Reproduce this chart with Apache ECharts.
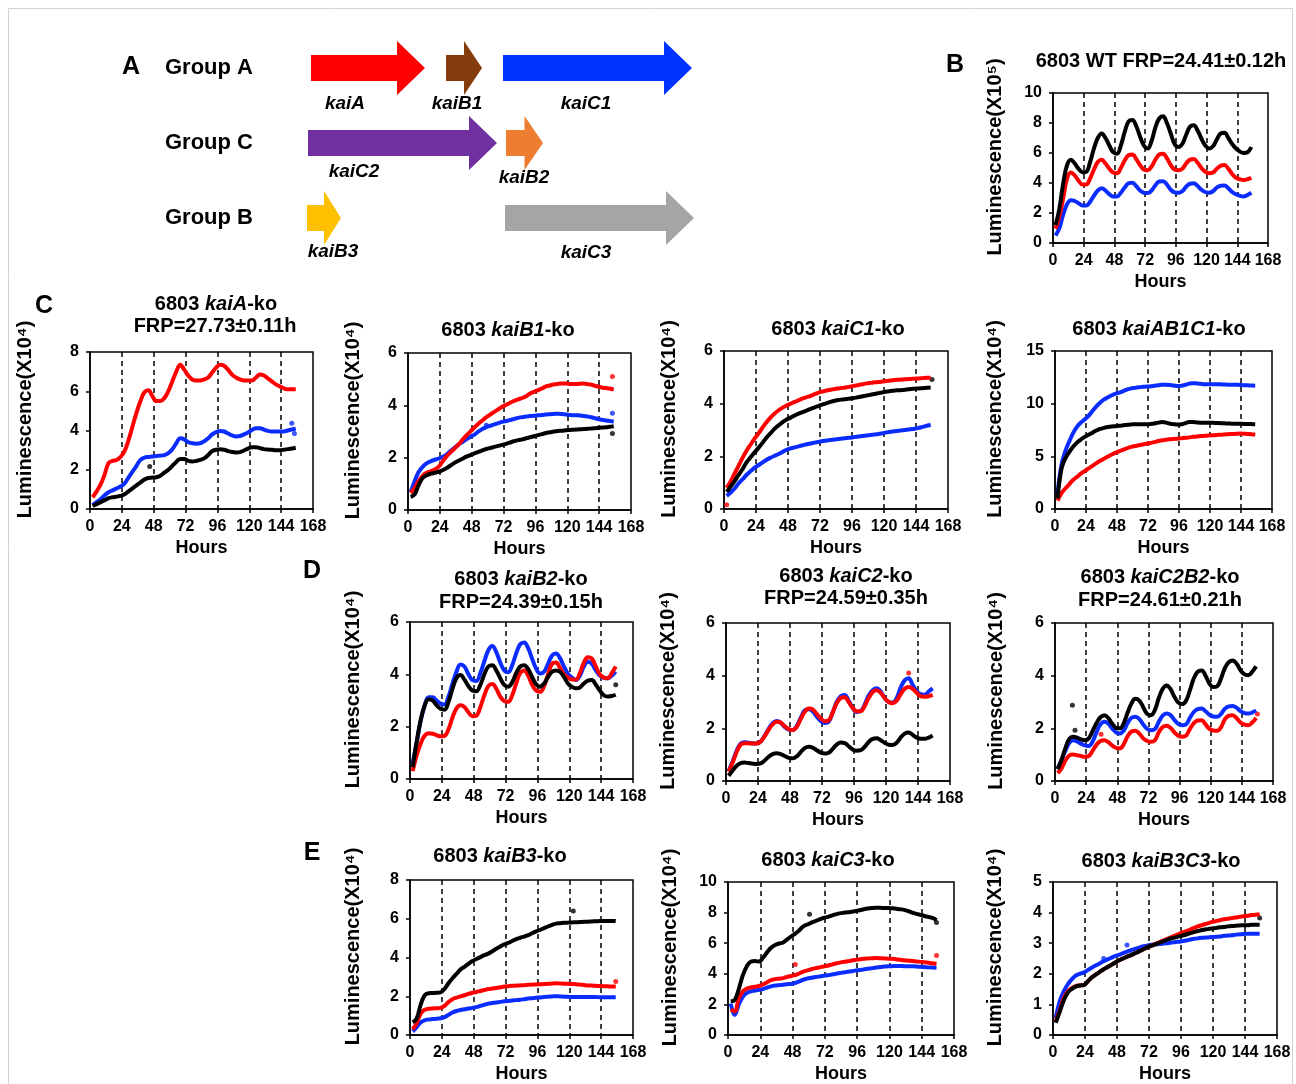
<!DOCTYPE html>
<html><head><meta charset="utf-8">
<script src="https://cdn.jsdelivr.net/npm/echarts@6/dist/echarts.min.js"></script>
<style>html,body{margin:0;padding:0;background:#fff}#c{width:1296px;height:1084px}</style>
</head><body><div id="c"></div><script>
// ---------- DATA ----------
const hours = [2,5,8,11,14,17,20,23,26,29,32,35,38, 41,44,47,50,53,56,59,62,65,68,71,74,77, 80,83,86,89,92,95,98,101,104,107,110,113,116, 119,122,125,128,131,134,137,140,143,146,149,152,155];
const xTicks = [0,24,48,72,96,120,144,168];

// B: WT (x10^5)
const wtK = [1.2,2.3,4.0,5.2,5.55,5.3,4.95,4.72,4.75,5.4,6.3,7.0,7.3, 7.0,6.5,6.05,5.95,6.5,7.4,8.1,8.2,7.8,7.1,6.5,6.3,6.8, 7.7,8.3,8.45,8.0,7.3,6.6,6.4,6.6,7.2,7.75,7.85,7.5,6.95, 6.5,6.3,6.45,6.9,7.3,7.35,7.0,6.6,6.3,6.1,6.0,6.05,6.4];
const wtR = [0.95,1.8,3.0,4.3,4.7,4.5,4.15,3.9,3.9,4.3,4.9,5.4,5.55, 5.3,4.95,4.7,4.65,5.0,5.5,5.85,5.9,5.6,5.2,4.9,4.85,5.1, 5.55,5.9,5.95,5.65,5.2,4.9,4.85,4.95,5.3,5.55,5.6,5.35,5.0, 4.75,4.65,4.7,4.95,5.15,5.2,4.95,4.6,4.35,4.25,4.2,4.25,4.35];
const wtB = [0.5,1.0,1.9,2.6,2.85,2.8,2.65,2.5,2.5,2.75,3.15,3.5,3.65, 3.5,3.25,3.1,3.1,3.35,3.7,3.98,4.02,3.8,3.5,3.35,3.33,3.5, 3.85,4.1,4.12,3.9,3.55,3.38,3.35,3.45,3.75,3.95,3.98,3.8,3.55, 3.4,3.35,3.45,3.7,3.82,3.83,3.65,3.4,3.25,3.15,3.1,3.2,3.35];
// C: kaiA-ko
const aK = [0.15,0.25,0.35,0.45,0.55,0.6,0.63,0.67,0.75,0.9,1.05,1.2,1.35, 1.5,1.58,1.6,1.62,1.7,1.85,2.0,2.2,2.4,2.55,2.55,2.45,2.42, 2.45,2.5,2.58,2.75,2.95,3.02,3.05,3.02,2.95,2.9,2.88,2.9,2.98, 3.08,3.15,3.15,3.1,3.05,3.03,3.02,3.0,3.0,3.02,3.05,3.08,3.12];
const aR = [0.6,0.9,1.25,1.75,2.35,2.45,2.5,2.65,2.95,3.5,4.2,4.9,5.5, 5.95,6.05,5.75,5.5,5.5,5.65,6.0,6.5,7.0,7.35,7.1,6.8,6.6, 6.55,6.55,6.6,6.7,6.95,7.2,7.35,7.3,7.1,6.85,6.7,6.6,6.55, 6.55,6.55,6.7,6.85,6.8,6.65,6.5,6.35,6.25,6.15,6.1,6.1,6.1];
const aB = [0.2,0.35,0.5,0.7,0.85,0.95,1.05,1.15,1.3,1.6,1.9,2.2,2.5, 2.62,2.65,2.67,2.7,2.72,2.75,2.85,3.05,3.35,3.6,3.55,3.4,3.35, 3.33,3.35,3.45,3.6,3.8,3.92,3.98,3.95,3.85,3.75,3.7,3.72,3.8, 3.9,4.02,4.12,4.12,4.05,3.98,3.95,3.95,3.95,3.95,4.0,4.05,4.1];
// C: kaiB1-ko
const b1K = [0.5,0.6,0.95,1.22,1.33,1.38,1.42,1.46,1.52,1.6,1.7,1.8,1.88, 1.96,2.04,2.1,2.16,2.22,2.28,2.33,2.37,2.41,2.45,2.49,2.53,2.58, 2.63,2.67,2.7,2.74,2.78,2.82,2.86,2.9,2.94,2.97,3.0,3.02,3.03, 3.05,3.06,3.07,3.08,3.09,3.1,3.11,3.12,3.13,3.15,3.16,3.18,3.2];
const b1R = [0.65,0.85,1.1,1.3,1.42,1.48,1.55,1.65,1.85,2.05,2.2,2.35,2.5, 2.68,2.85,3.0,3.15,3.3,3.42,3.55,3.65,3.75,3.85,3.95,4.02,4.1, 4.17,4.23,4.28,4.35,4.45,4.52,4.58,4.65,4.72,4.76,4.8,4.82,4.83, 4.83,4.82,4.82,4.82,4.83,4.82,4.8,4.76,4.72,4.68,4.66,4.64,4.6];
const b1B = [0.68,1.1,1.45,1.65,1.78,1.86,1.92,1.96,2.03,2.12,2.25,2.38,2.5, 2.6,2.7,2.8,2.88,3.0,3.1,3.17,3.22,3.27,3.32,3.37,3.4,3.44, 3.48,3.52,3.55,3.57,3.59,3.6,3.62,3.63,3.65,3.66,3.67,3.68,3.67, 3.65,3.63,3.62,3.62,3.6,3.58,3.56,3.52,3.48,3.45,3.42,3.4,3.38];
// C: kaiC1-ko
const c1K = [0.65,0.85,1.07,1.3,1.52,1.78,1.97,2.15,2.33,2.52,2.72,2.88,3.05, 3.18,3.3,3.4,3.47,3.55,3.62,3.68,3.74,3.8,3.86,3.92,3.97,4.02, 4.07,4.11,4.14,4.16,4.18,4.2,4.22,4.25,4.28,4.31,4.34,4.37,4.4, 4.43,4.46,4.48,4.5,4.51,4.52,4.54,4.56,4.57,4.58,4.59,4.6,4.61];
const c1R = [0.8,1.05,1.35,1.65,1.95,2.22,2.45,2.68,2.88,3.1,3.3,3.48,3.63, 3.75,3.85,3.93,4.0,4.07,4.13,4.2,4.25,4.3,4.36,4.42,4.46,4.5, 4.53,4.56,4.58,4.6,4.62,4.65,4.68,4.71,4.74,4.77,4.79,4.81,4.82, 4.84,4.86,4.88,4.9,4.91,4.92,4.93,4.94,4.95,4.96,4.97,4.98,4.98];
const c1B = [0.5,0.63,0.78,0.98,1.13,1.3,1.44,1.57,1.67,1.77,1.87,1.95,2.02, 2.09,2.17,2.25,2.3,2.34,2.38,2.42,2.46,2.49,2.52,2.55,2.58,2.6, 2.62,2.64,2.66,2.68,2.7,2.71,2.73,2.75,2.77,2.79,2.81,2.83,2.85, 2.88,2.91,2.93,2.95,2.97,2.99,3.01,3.03,3.05,3.08,3.12,3.16,3.2];
// C: kaiAB1C1-ko
const abcK = [1.0,3.8,4.8,5.4,5.9,6.3,6.6,6.85,7.05,7.25,7.45,7.6,7.7, 7.78,7.83,7.86,7.9,7.95,8.0,8.03,8.05,8.05,8.05,8.05,8.07,8.12, 8.2,8.25,8.2,8.1,8.05,8.02,8.05,8.15,8.25,8.27,8.22,8.18,8.18, 8.18,8.18,8.17,8.15,8.13,8.12,8.1,8.1,8.1,8.08,8.07,8.06,8.05];
const abcR = [0.8,1.5,1.95,2.35,2.75,3.05,3.35,3.6,3.85,4.1,4.35,4.58,4.78, 4.98,5.18,5.35,5.5,5.63,5.78,5.9,5.98,6.06,6.13,6.2,6.27,6.35, 6.45,6.52,6.58,6.62,6.65,6.68,6.72,6.76,6.8,6.85,6.88,6.92,6.95, 6.98,7.0,7.02,7.05,7.08,7.1,7.12,7.14,7.16,7.15,7.12,7.1,7.07];
const abcB = [1.5,4.2,5.5,6.4,7.2,7.8,8.2,8.5,8.85,9.3,9.75,10.1,10.4, 10.6,10.8,10.95,11.05,11.2,11.35,11.45,11.5,11.55,11.6,11.62,11.65,11.7, 11.75,11.8,11.8,11.78,11.72,11.68,11.7,11.8,11.9,11.95,11.92,11.88,11.85, 11.84,11.84,11.85,11.84,11.82,11.8,11.8,11.8,11.78,11.76,11.74,11.72,11.7];
// D: kaiB2-ko
const b2K = [0.45,1.4,2.25,2.8,3.05,3.0,2.82,2.68,2.65,2.95,3.45,3.85,3.97, 3.8,3.55,3.38,3.35,3.6,4.0,4.3,4.35,4.15,3.85,3.6,3.53,3.7, 4.05,4.3,4.35,4.2,3.9,3.62,3.53,3.65,3.9,4.1,4.15,4.1,3.9, 3.65,3.52,3.47,3.5,3.65,3.76,3.78,3.6,3.38,3.2,3.15,3.17,3.22];
const b2R = [0.3,0.9,1.35,1.65,1.75,1.73,1.68,1.63,1.65,1.9,2.35,2.7,2.82, 2.75,2.55,2.4,2.42,2.75,3.2,3.55,3.63,3.45,3.15,2.98,2.95,3.2, 3.65,4.05,4.15,3.95,3.6,3.38,3.33,3.55,4.0,4.4,4.45,4.25,4.0, 3.88,3.8,3.8,4.05,4.45,4.65,4.6,4.3,4.0,3.88,3.85,4.05,4.3];
const b2B = [0.6,1.4,2.2,2.8,3.12,3.12,3.0,2.88,2.85,3.15,3.65,4.1,4.38, 4.3,4.0,3.78,3.75,4.05,4.5,4.92,5.08,4.85,4.45,4.15,4.08,4.35, 4.8,5.15,5.22,5.0,4.6,4.22,4.03,4.1,4.4,4.72,4.8,4.62,4.3, 4.02,3.88,3.78,3.95,4.3,4.48,4.4,4.15,3.95,3.87,3.85,3.95,4.1];
// D: kaiC2-ko
const c2K = [0.2,0.4,0.58,0.68,0.7,0.68,0.66,0.65,0.67,0.78,0.92,1.02,1.05, 1.02,0.95,0.88,0.86,0.93,1.1,1.25,1.3,1.27,1.17,1.08,1.04,1.07, 1.22,1.38,1.46,1.44,1.32,1.2,1.15,1.17,1.3,1.48,1.6,1.62,1.55, 1.45,1.38,1.37,1.45,1.65,1.8,1.84,1.75,1.65,1.6,1.6,1.65,1.73];
const c2R = [0.35,0.7,1.1,1.38,1.43,1.43,1.42,1.42,1.5,1.7,1.95,2.15,2.25, 2.22,2.08,1.97,1.94,2.05,2.35,2.62,2.75,2.72,2.55,2.38,2.27,2.3, 2.6,2.95,3.15,3.18,3.0,2.78,2.65,2.65,2.85,3.15,3.38,3.45,3.35, 3.15,3.0,2.95,3.05,3.3,3.5,3.57,3.5,3.35,3.22,3.2,3.22,3.27];
const c2B = [0.38,0.75,1.15,1.42,1.47,1.45,1.43,1.42,1.5,1.72,1.98,2.2,2.28, 2.22,2.05,1.95,1.94,2.08,2.4,2.68,2.72,2.65,2.45,2.28,2.2,2.25, 2.6,3.0,3.22,3.27,3.05,2.78,2.62,2.65,2.9,3.25,3.45,3.52,3.4, 3.15,3.0,2.98,3.15,3.55,3.82,3.9,3.65,3.42,3.3,3.28,3.4,3.52];
// D: kaiC2B2-ko
const cbK = [0.45,0.8,1.25,1.6,1.68,1.65,1.58,1.55,1.62,1.9,2.2,2.42,2.5, 2.4,2.18,2.02,2.0,2.2,2.6,2.95,3.12,3.05,2.8,2.55,2.5,2.7, 3.15,3.5,3.63,3.5,3.2,2.98,2.92,3.05,3.45,3.9,4.15,4.2,4.0, 3.7,3.57,3.6,3.9,4.3,4.52,4.58,4.45,4.2,4.05,4.02,4.15,4.35];
const cbR = [0.3,0.48,0.78,0.97,1.01,0.98,0.95,0.92,0.95,1.15,1.38,1.52,1.55, 1.48,1.35,1.26,1.24,1.4,1.7,1.88,1.91,1.8,1.62,1.52,1.49,1.55, 1.85,2.05,2.1,2.02,1.85,1.72,1.68,1.72,1.98,2.2,2.3,2.31,2.15, 1.98,1.92,1.91,2.05,2.35,2.48,2.5,2.38,2.22,2.14,2.12,2.22,2.4];
const cbB = [0.45,0.8,1.15,1.45,1.55,1.5,1.42,1.35,1.33,1.5,1.85,2.15,2.25, 2.18,2.0,1.85,1.8,1.92,2.2,2.4,2.44,2.35,2.15,1.98,1.93,1.97, 2.25,2.48,2.56,2.5,2.32,2.17,2.12,2.15,2.4,2.62,2.73,2.75,2.65, 2.52,2.45,2.44,2.55,2.75,2.83,2.85,2.78,2.65,2.58,2.56,2.6,2.68];
// E: kaiB3-ko
const b3K = [0.65,0.85,1.55,2.05,2.16,2.17,2.18,2.2,2.38,2.67,2.93,3.15,3.38, 3.52,3.67,3.82,3.92,4.02,4.12,4.2,4.32,4.45,4.57,4.68,4.75,4.85, 4.95,5.02,5.08,5.15,5.25,5.35,5.42,5.52,5.6,5.68,5.75,5.77,5.79, 5.8,5.81,5.82,5.83,5.84,5.85,5.86,5.87,5.88,5.88,5.89,5.89,5.88];
const b3R = [0.3,0.6,1.1,1.3,1.35,1.37,1.38,1.4,1.5,1.7,1.85,1.93,1.99, 2.05,2.12,2.18,2.22,2.27,2.32,2.37,2.4,2.43,2.46,2.5,2.52,2.54, 2.55,2.56,2.57,2.59,2.6,2.61,2.62,2.63,2.64,2.66,2.67,2.66,2.65, 2.64,2.63,2.62,2.6,2.58,2.56,2.55,2.54,2.53,2.52,2.51,2.5,2.5];
const b3B = [0.18,0.4,0.65,0.76,0.8,0.82,0.84,0.86,0.92,1.04,1.16,1.24,1.29, 1.33,1.37,1.4,1.44,1.5,1.56,1.62,1.65,1.68,1.71,1.74,1.76,1.78, 1.8,1.82,1.85,1.88,1.9,1.92,1.94,1.96,1.98,1.99,2.0,1.99,1.98, 1.97,1.96,1.96,1.96,1.96,1.96,1.96,1.96,1.95,1.95,1.95,1.95,1.95];
// E: kaiC3-ko
const c3K = [2.2,2.3,3.0,3.9,4.5,4.8,4.83,4.8,5.05,5.4,5.7,5.88,5.98, 6.05,6.25,6.45,6.62,6.85,7.1,7.22,7.35,7.45,7.55,7.65,7.72,7.8, 7.88,7.95,7.99,8.02,8.06,8.1,8.15,8.22,8.27,8.3,8.31,8.31,8.3, 8.3,8.28,8.25,8.22,8.18,8.1,8.0,7.92,7.85,7.78,7.72,7.65,7.5];
const c3R = [1.65,1.55,2.4,2.85,3.03,3.1,3.15,3.2,3.3,3.45,3.58,3.65,3.68, 3.72,3.8,3.86,3.92,4.02,4.15,4.22,4.3,4.37,4.42,4.48,4.53,4.6, 4.67,4.73,4.78,4.82,4.87,4.91,4.95,4.98,5.0,5.02,5.03,5.02,5.0, 4.99,4.98,4.95,4.92,4.88,4.86,4.84,4.81,4.78,4.75,4.72,4.69,4.65];
const c3B = [2.05,1.3,2.0,2.5,2.75,2.85,2.9,2.95,3.0,3.1,3.18,3.23,3.26, 3.29,3.32,3.34,3.4,3.5,3.62,3.69,3.74,3.79,3.83,3.87,3.9,3.95, 4.0,4.05,4.09,4.13,4.17,4.21,4.25,4.29,4.33,4.37,4.41,4.44,4.47, 4.49,4.5,4.51,4.51,4.5,4.5,4.49,4.48,4.46,4.44,4.42,4.41,4.4];
// E: kaiB3C3-ko
const bcK = [0.4,0.75,1.12,1.38,1.5,1.58,1.62,1.63,1.75,1.88,1.97,2.06,2.15, 2.22,2.3,2.38,2.45,2.51,2.57,2.62,2.68,2.74,2.8,2.87,2.92,2.97, 3.02,3.07,3.12,3.16,3.19,3.23,3.26,3.3,3.34,3.38,3.41,3.44,3.46, 3.48,3.5,3.52,3.53,3.55,3.56,3.57,3.58,3.59,3.59,3.6,3.6,3.6];
const bcR = [0.45,0.8,1.2,1.42,1.53,1.6,1.62,1.63,1.75,1.88,1.97,2.06,2.15, 2.22,2.3,2.38,2.45,2.51,2.57,2.62,2.68,2.74,2.8,2.87,2.92,2.98, 3.04,3.09,3.15,3.2,3.26,3.31,3.36,3.41,3.47,3.52,3.57,3.61,3.65, 3.69,3.72,3.75,3.78,3.8,3.82,3.84,3.86,3.88,3.9,3.92,3.93,3.95];
const bcB = [0.55,1.1,1.42,1.65,1.82,1.94,2.0,2.04,2.12,2.2,2.27,2.34,2.41, 2.47,2.53,2.59,2.63,2.68,2.73,2.78,2.82,2.86,2.9,2.93,2.95,2.96, 2.97,2.99,3.0,3.02,3.04,3.05,3.07,3.1,3.13,3.15,3.17,3.18,3.19, 3.2,3.21,3.22,3.24,3.25,3.26,3.28,3.29,3.3,3.31,3.31,3.31,3.31];

// isolated outlier readings [hour, value]
const aOutK = [[45,2.17]], aOutB = [[152,4.37],[154,3.85]];
const b1OutK = [[154,2.92]], b1OutR = [[154,5.1]], b1OutB = [[154,3.7],[59,3.24]];
const c1OutK = [[156,4.92]], c1OutR = [[2,0.16]];
const b2OutK = [[155,3.6]];
const c2OutR = [[137,4.1]];
const cbOutK = [[13.4,2.88],[15.4,1.93]], cbOutR = [[35.5,1.78],[156,2.54]];
const b3OutK = [[123,6.4]], b3OutR = [[155,2.76]];
const c3OutK = [[60.6,7.89],[155,7.36]], c3OutR = [[50,4.6],[155,5.2]];
const bcOutK = [[155,3.82]], bcOutB = [[55.5,2.94],[38,2.5]];

// Panel A gene map (diagram units)
const groupNames = ['Group A','Group C','Group B'];
const geneNames = ['kaiA','kaiB1','kaiC1','kaiC2','kaiB2','kaiB3','kaiC3'];
const geneRow   = [0,0,0,1,1,2,2];
const geneStart = [1.1,14.6,20.3,0.8,20.6,0.7,20.5];
const geneEnd   = [12.5,18.2,39.2,19.7,24.3,4.1,39.4];
const geneLabelX = [4.5,15.7,28.6,5.4,22.4,3.3,28.6];

// ---------- STYLE / LAYOUT ----------
const FONT = '"Liberation Sans", Arial, Helvetica, sans-serif';
const RED = '#ff0000', BLUE = '#0a2cff', BLACK = '#000000';
const geneColors = ['#ff0000','#843c0c','#0033ff','#7030a0','#ed7d31','#ffc000','#a5a5a5'];
const geneLabelDy = [36,36,36,29,35,34,35];

const panels = [
  {g:[1053,93,215,150], ymax:10, yint:2, exp:'\u2075', ng:48, K:wtK, R:wtR, B:wtB},
  {g:[90,352,223,157],  ymax:8,  yint:2, exp:'\u2074', ng:55, K:aK, R:aR, B:aB, oK:aOutK, oB:aOutB},
  {g:[408,353,223,157], ymax:6,  yint:2, exp:'\u2074', ng:45, K:b1K, R:b1R, B:b1B, oK:b1OutK, oR:b1OutR, oB:b1OutB},
  {g:[724,351,224,158], ymax:6,  yint:2, exp:'\u2074', ng:45, K:c1K, R:c1R, B:c1B, oK:c1OutK, oR:c1OutR},
  {g:[1055,351,217,158],ymax:15, yint:5, exp:'\u2074', ng:50, K:abcK, R:abcR, B:abcB},
  {g:[410,622,223,157], ymax:6,  yint:2, exp:'\u2074', ng:47, K:b2K, R:b2R, B:b2B, oK:b2OutK},
  {g:[726,623,224,158], ymax:6,  yint:2, exp:'\u2074', ng:48, K:c2K, R:c2R, B:c2B, oR:c2OutR},
  {g:[1055,623,218,158],ymax:6,  yint:2, exp:'\u2074', ng:49, K:cbK, R:cbR, B:cbB, oK:cbOutK, oR:cbOutR},
  {g:[410,880,223,158], ymax:8,  yint:2, exp:'\u2074', ng:47, K:b3K, R:b3R, B:b3B, oK:b3OutK, oR:b3OutR},
  {g:[728,882,226,157], ymax:10, yint:2, exp:'\u2074', ng:48, K:c3K, R:c3R, B:c3B, oK:c3OutK, oR:c3OutR},
  {g:[1053,882,224,157],ymax:5,  yint:1, exp:'\u2074', ng:48, K:bcK, R:bcR, B:bcB, oK:bcOutK, oB:bcOutB}
];

const grids=[], xAxes=[], yAxes=[], series=[];
const lbl = {fontSize:16, fontWeight:'bold', color:'#000', fontFamily:FONT};
panels.forEach((p,i)=>{
  grids.push({left:p.g[0], top:p.g[1], width:p.g[2], height:p.g[3], show:true, borderColor:'#000', borderWidth:1.5, backgroundColor:'rgba(0,0,0,0)'});
  xAxes.push({gridIndex:i, type:'value', min:xTicks[0], max:xTicks[xTicks.length-1], interval:xTicks[1]-xTicks[0],
    name:'Hours', nameLocation:'middle', nameGap:30,
    nameTextStyle:{fontSize:18, fontWeight:'bold', color:'#000', fontFamily:FONT},
    axisLine:{show:true, onZero:false, lineStyle:{color:'#000', width:1.5}},
    axisTick:{show:true, length:4, lineStyle:{color:'#000', width:1.5}},
    axisLabel:Object.assign({margin:10, showMinLabel:true, showMaxLabel:true}, lbl),
    splitLine:{show:true, showMinLine:false, showMaxLine:false, lineStyle:{color:'#000', width:1.5, type:[5,4]}}});
  yAxes.push({gridIndex:i, type:'value', min:0, max:p.ymax, interval:p.yint,
    name:'Luminescence(X10'+p.exp+')', nameLocation:'middle', nameGap:p.ng,
    nameTextStyle:{fontSize:20, fontWeight:'bold', color:'#000', fontFamily:FONT, padding:[0,0,0,22]},
    axisLine:{show:true, onZero:false, lineStyle:{color:'#000', width:1.5}},
    axisTick:{show:true, length:4, lineStyle:{color:'#000', width:1.5}},
    axisLabel:Object.assign({margin:11, showMinLabel:true, showMaxLabel:true}, lbl),
    splitLine:{show:false}});
  [['B',BLUE],['R',RED],['K',BLACK]].forEach(([k,col])=>{
    series.push({type:'line', xAxisIndex:i, yAxisIndex:i, data:hours.map((h,j)=>[h,p[k][j]]),
      showSymbol:false, symbol:'none', smooth:0.4, silent:true,
      lineStyle:{width:4, color:col}, itemStyle:{color:col}});
    if (p['o'+k]) series.push({type:'scatter', xAxisIndex:i, yAxisIndex:i, data:p['o'+k],
      symbolSize:5, silent:true, itemStyle:{color:col}});
  });
});

// Gene diagram grid
const gi = panels.length;
grids.push({left:300, top:30.5, width:400, height:225, show:false});
xAxes.push({gridIndex:gi, type:'value', min:0, max:40, show:false});
yAxes.push({gridIndex:gi, type:'category', data:groupNames, inverse:true,
  axisLine:{show:false}, axisTick:{show:false}, splitLine:{show:false},
  axisLabel:{margin:47, fontSize:22, fontWeight:'bold', color:'#000', fontFamily:FONT}});
series.push({type:'custom', xAxisIndex:gi, yAxisIndex:gi, silent:true,
  data: geneNames.map((n,i)=>[geneStart[i], geneEnd[i], geneRow[i], geneLabelX[i], i]),
  encode:{x:[0,1,3], y:2},
  renderItem:function(params, api){
    const idx = api.value(4);
    const s = api.coord([api.value(0), api.value(2)]);
    const e = api.coord([api.value(1), api.value(2)]);
    const lab = api.coord([api.value(3), api.value(2)]);
    const len = e[0]-s[0];
    const head = Math.min(28, len/2);
    const bh = 13, hh = 27, cy = s[1];
    return {type:'group', children:[
      {type:'polygon', shape:{points:[[s[0],cy-bh],[e[0]-head,cy-bh],[e[0]-head,cy-hh],[e[0],cy],[e[0]-head,cy+hh],[e[0]-head,cy+bh],[s[0],cy+bh]]},
        style:{fill:geneColors[idx]}},
      {type:'text', x:lab[0], y:cy+geneLabelDy[idx], style:{text:geneNames[idx], align:'center', verticalAlign:'middle',
        fontSize:19, fontWeight:'bold', fontStyle:'italic', fontFamily:FONT, fill:'#000'}}
    ]};
  }});

// Titles & panel letters
function rt(x, y, text, size){
  return {type:'text', x:x, y:y, silent:true, style:{text:text, align:'center', verticalAlign:'middle',
    fontSize:size, fontWeight:'bold', fontFamily:FONT, fill:'#000',
    rich:{n:{fontSize:size, fontWeight:'bold', fontFamily:FONT, fill:'#000'},
          i:{fontSize:size, fontWeight:'bold', fontStyle:'italic', fontFamily:FONT, fill:'#000'}}}};
}
const graphic = [
  {type:'rect', silent:true, shape:{x:8.5, y:8.5, width:1284, height:1090}, style:{fill:'none', stroke:'#d4d4d4', lineWidth:1}},
  rt(131,67,'A',25), rt(955,65,'B',25), rt(44,306,'C',25), rt(312,571,'D',25), rt(312,853,'E',25),
  rt(1161,61,'{n|6803 WT FRP=24.41\u00b10.12h}',20),
  rt(216,304,'{n|6803 }{i|kaiA}{n|-ko}',20), rt(215,326,'{n|FRP=27.73\u00b10.11h}',20),
  rt(508,330,'{n|6803 }{i|kaiB1}{n|-ko}',20),
  rt(838,329,'{n|6803 }{i|kaiC1}{n|-ko}',20),
  rt(1159,329,'{n|6803 }{i|kaiAB1C1}{n|-ko}',20),
  rt(521,579,'{n|6803 }{i|kaiB2}{n|-ko}',20), rt(521,602,'{n|FRP=24.39\u00b10.15h}',20),
  rt(846,576,'{n|6803 }{i|kaiC2}{n|-ko}',20), rt(846,598,'{n|FRP=24.59\u00b10.35h}',20),
  rt(1160,577,'{n|6803 }{i|kaiC2B2}{n|-ko}',20), rt(1160,600,'{n|FRP=24.61\u00b10.21h}',20),
  rt(500,856,'{n|6803 }{i|kaiB3}{n|-ko}',20),
  rt(828,860,'{n|6803 }{i|kaiC3}{n|-ko}',20),
  rt(1161,861,'{n|6803 }{i|kaiB3C3}{n|-ko}',20)
];

const chart = echarts.init(document.getElementById('c'), null, {renderer:'canvas'});
chart.setOption({animation:false, backgroundColor:'#fff', grid:grids, xAxis:xAxes, yAxis:yAxes, series:series, graphic:graphic});
</script></body></html>
